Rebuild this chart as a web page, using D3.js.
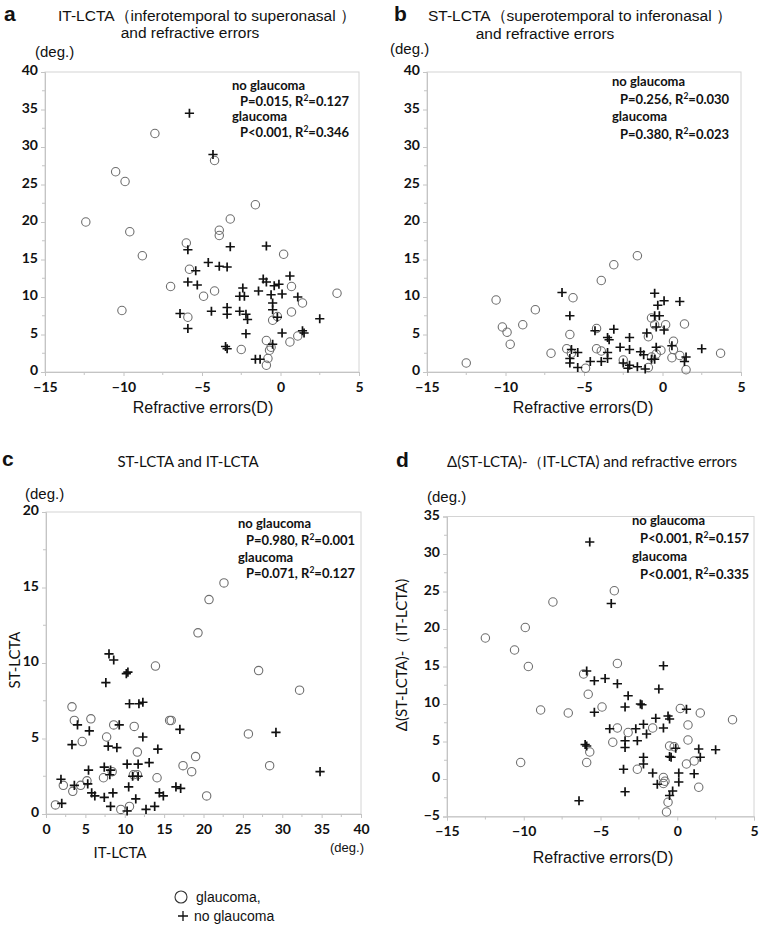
<!DOCTYPE html>
<html><head><meta charset="utf-8">
<script src="https://cdn.jsdelivr.net/npm/d3@7"></script>
<style>body{margin:0;background:#fff}svg{display:block}</style>
</head><body>
<svg id="c" width="761" height="944"></svg>
<script>
// ---------- DATA ----------
const refTicks = [-15, -10, -5, 0, 5];
const degTicks40 = [0, 5, 10, 15, 20, 25, 30, 35, 40];
const degTicks20 = [0, 5, 10, 15, 20];
const itTicks = [0, 5, 10, 15, 20, 25, 30, 35, 40];
const diffTicks = [-5, 0, 5, 10, 15, 20, 25, 30, 35];

// Panel a: IT-LCTA vs refractive error
const aGlaucoma = [[-8.0,31.8],[-10.5,26.7],[-9.9,25.4],[-12.4,20.0],[-9.6,18.7],[-4.2,28.2],[-1.6,22.3],[-3.2,20.4],[-3.9,18.9],[-3.9,18.2],[-6.0,17.2],[0.2,15.7],[-8.8,15.5],[-5.8,13.7],[-7.0,11.4],[-4.2,10.8],[-4.9,10.1],[-10.1,8.2],[-5.9,7.3],[0.7,11.4],[3.6,10.5],[1.4,9.2],[0.7,8.0],[-0.5,6.9],[-0.2,7.4],[1.1,4.8],[0.6,4.0],[-0.9,4.2],[-2.5,3.0],[-0.7,2.9],[-0.6,3.3],[-0.8,1.8],[-0.9,0.9]];
const aNoGlaucoma = [[-5.8,34.5],[-4.3,29.0],[-5.9,16.3],[-3.2,16.7],[-0.9,16.8],[-5.4,13.5],[-4.6,14.6],[-3.9,14.1],[-3.4,14.0],[-5.9,12.0],[-5.3,11.6],[-2.4,11.2],[-2.6,10.1],[-2.3,10.1],[-1.4,10.8],[-1.1,12.4],[-0.9,12.0],[-0.4,11.5],[-0.1,11.7],[0.6,12.8],[-0.6,10.3],[0.1,10.4],[-0.5,9.2],[-0.5,8.3],[1.1,10.0],[-6.4,7.8],[-4.4,8.1],[-3.4,8.6],[-3.4,7.7],[-2.6,8.1],[-2.2,7.7],[-2.1,7.0],[-0.2,7.3],[2.5,7.1],[-5.9,5.8],[-2.2,5.1],[0.1,5.2],[1.4,5.5],[1.5,5.2],[-0.5,3.7],[-3.5,3.4],[-3.4,3.1],[-1.6,1.7],[-1.3,1.7]];

// Panel b: ST-LCTA vs refractive error
const bGlaucoma = [[-3.1,14.3],[-1.6,15.5],[-3.9,12.2],[-10.6,9.6],[-5.7,9.9],[-8.1,8.3],[-10.2,6.0],[-9.9,5.3],[-8.9,6.3],[-9.7,3.7],[-12.5,1.2],[-7.1,2.5],[-5.9,5.0],[-6.1,3.1],[-5.8,2.5],[-4.2,5.8],[-4.2,3.1],[-3.9,2.8],[-4.9,0.5],[-2.5,1.6],[-0.9,4.7],[-0.7,7.2],[-0.5,6.3],[0.2,6.3],[1.4,6.4],[0.7,4.1],[0.7,3.0],[0.6,1.9],[-0.1,2.9],[-0.4,2.4],[-0.7,2.0],[1.1,2.2],[1.5,0.3],[3.7,2.5],[-0.9,0.6]];
const bNoGlaucoma = [[-6.4,10.6],[-5.9,7.5],[-5.8,3.0],[-5.4,2.6],[-5.9,1.8],[-5.9,1.2],[-5.4,0.6],[-4.3,5.5],[-3.5,4.6],[-3.4,4.3],[-3.1,5.7],[-3.5,2.6],[-3.5,1.8],[-4.6,1.4],[-3.9,1.4],[-2.1,4.6],[-2.7,3.3],[-2.1,3.0],[-2.5,1.2],[-2.1,0.9],[-2.2,0.5],[-1.6,0.7],[-1.4,2.7],[-1.2,2.3],[-1.1,0.4],[-1.0,5.2],[-0.5,10.5],[-0.3,8.9],[0.1,9.5],[1.1,9.4],[-0.5,7.5],[-0.2,7.5],[-0.4,6.0],[0.1,5.6],[-0.4,3.3],[-0.7,1.7],[-0.5,1.7],[0.6,3.5],[1.5,2.0],[1.4,1.4],[2.5,3.1]];

// Panel c: ST-LCTA vs IT-LCTA
const cGlaucoma = [[22.6,15.3],[20.7,14.2],[19.3,12.0],[13.9,9.8],[27.0,9.5],[32.2,8.2],[3.3,7.1],[3.6,6.2],[5.7,6.3],[8.6,5.9],[11.2,5.8],[15.7,6.2],[15.9,6.2],[4.6,4.8],[7.7,5.1],[11.6,4.1],[19.0,3.8],[17.4,3.2],[18.5,2.8],[25.7,5.3],[28.4,3.2],[8.4,2.8],[7.3,2.4],[11.1,2.6],[11.6,2.6],[14.1,2.4],[5.2,2.2],[2.2,1.9],[4.4,1.9],[3.4,1.5],[1.2,0.6],[9.5,0.3],[10.6,0.5],[20.4,1.2]];
const cNoGlaucoma = [[8.0,10.6],[8.6,10.2],[7.6,8.7],[10.2,9.3],[10.4,9.4],[10.6,7.3],[11.8,7.3],[12.3,7.4],[4.0,5.9],[5.5,5.5],[9.3,5.9],[17.0,5.6],[12.3,5.1],[29.2,5.4],[3.3,4.6],[7.9,4.5],[9.0,4.4],[14.2,4.3],[10.3,3.3],[11.7,3.3],[13.1,3.4],[5.4,2.9],[7.4,3.1],[8.2,2.9],[8.1,2.6],[11.0,2.5],[11.7,2.5],[34.8,2.8],[1.9,2.3],[3.6,1.9],[5.3,2.0],[5.8,1.4],[6.2,1.2],[7.4,1.1],[8.5,1.4],[10.5,1.8],[11.4,1.0],[14.4,1.4],[14.9,1.2],[16.5,1.8],[17.1,1.7],[2.0,0.7],[8.2,0.5],[10.3,0.2],[12.7,0.3],[13.8,0.5]];

// Panel d: (ST-LCTA)-(IT-LCTA) vs refractive error
const dGlaucoma = [[-4.1,25.1],[-8.1,23.6],[-9.9,20.2],[-12.5,18.8],[-10.6,17.2],[-9.7,15.0],[-3.9,15.4],[-6.1,14.0],[-5.8,11.3],[-8.9,9.2],[-7.1,8.8],[-4.9,9.6],[0.2,9.4],[1.5,8.8],[3.6,7.9],[-3.9,6.8],[-3.2,6.2],[-1.6,6.8],[0.7,7.2],[-4.2,4.9],[0.7,5.2],[-0.5,4.4],[-0.2,4.3],[-5.7,3.6],[-5.9,2.2],[-10.2,2.2],[0.6,2.0],[1.1,2.4],[-2.6,1.3],[-0.9,0.2],[-0.8,-0.3],[-0.9,-0.6],[1.4,-1.1],[-0.6,-3.1],[-0.7,-4.4]];
const dNoGlaucoma = [[-5.7,31.6],[-4.3,23.4],[-0.9,15.1],[-5.9,14.4],[-5.4,13.1],[-4.7,13.4],[-3.9,12.7],[-1.2,12.0],[-3.2,11.1],[-3.4,9.6],[-2.4,10.0],[-2.3,9.9],[-5.4,8.9],[0.6,9.3],[-1.4,8.1],[-0.6,8.4],[-0.5,8.0],[-4.4,6.7],[-2.7,6.7],[-2.2,7.3],[-0.9,6.8],[-2.0,6.0],[-3.4,5.1],[-3.4,4.2],[-2.6,5.1],[-6.0,4.6],[-5.9,4.4],[-0.1,4.1],[1.4,4.0],[2.5,3.9],[1.5,2.9],[-2.2,2.9],[-2.2,2.0],[-0.5,3.0],[-0.4,2.9],[-3.5,1.3],[-1.6,0.8],[0.1,0.8],[1.1,0.7],[-1.3,-0.7],[0.1,-0.4],[-3.4,-1.7],[-0.3,-1.6],[-0.5,-2.2],[-6.4,-2.9]];

// ---------- DRAW ----------
const svg = d3.select("#c");
const ARIAL = "'Liberation Sans', Arial, sans-serif";
const CAL = "Lato, 'Open Sans', sans-serif";
const axisCol = "#c4c4c4";

function drawPanel(p) {
  const x = d3.scaleLinear().domain(p.xDomain).range(p.xRange);
  const y = d3.scaleLinear().domain(p.yDomain).range(p.yRange);
  const g = svg.append("g");
  const [x0, x1] = p.xRange, [y0, y1] = p.yRange;
  g.append("rect").attr("x", x0).attr("y", y1).attr("width", x1 - x0).attr("height", y0 - y1)
    .attr("fill", "none").attr("stroke", "#d4d4d4").attr("stroke-width", 1);
  const xAx = d3.axisBottom(x).tickValues(p.xTicks).tickSize(4).tickPadding(6).tickFormat(d3.format("d"));
  const yAx = d3.axisLeft(y).tickValues(p.yTicks).tickSize(4).tickPadding(3).tickFormat(d3.format("d"));
  const gx = g.append("g").attr("transform", `translate(0,${y0})`).call(xAx);
  const gy = g.append("g").attr("transform", `translate(${x0},0)`).call(yAx);
  [gx, gy].forEach(a => {
    a.select(".domain").attr("stroke", axisCol);
    a.selectAll(".tick line").attr("stroke", axisCol);
    a.selectAll("text").attr("font-family", CAL).attr("font-weight", "bold")
      .attr("font-size", 14).attr("fill", "#111");
  });
  gy.selectAll(".tick text").attr("dy", "0.2em");
  const xs = p.xTicks, ys = p.yTicks;
  for (let i = 0; i < xs.length - 1; i++) {
    const m = (xs[i] + xs[i + 1]) / 2;
    g.append("line").attr("x1", x(m)).attr("x2", x(m)).attr("y1", y0).attr("y2", y0 + 3).attr("stroke", axisCol);
  }
  for (let i = 0; i < ys.length - 1; i++) {
    const m = (ys[i] + ys[i + 1]) / 2;
    g.append("line").attr("y1", y(m)).attr("y2", y(m)).attr("x1", x0).attr("x2", x0 - 3).attr("stroke", axisCol);
  }
  g.append("g").selectAll("circle").data(p.circles).join("circle")
    .attr("cx", d => x(d[0])).attr("cy", d => y(d[1])).attr("r", 4.2)
    .attr("fill", "none").attr("stroke", "#6e6e6e").attr("stroke-width", 1.1);
  const pl = 4.6;
  g.append("g").selectAll("path").data(p.pluses).join("path")
    .attr("d", d => `M${x(d[0]) - pl},${y(d[1])}h${2 * pl}M${x(d[0])},${y(d[1]) - pl}v${2 * pl}`)
    .attr("stroke", "#111").attr("stroke-width", 1.7).attr("fill", "none");
  const an = g.append("g").attr("font-family", CAL).attr("font-weight", "bold").attr("font-size", 13).attr("fill", "#111");
  p.ann.forEach((t, i) => {
    const tx = an.append("text").attr("x", p.annX + (i % 2 ? 8 : 0)).attr("y", p.annY + i * p.annStep);
    if (i % 2 === 0) tx.text(t);
    else {
      tx.append("tspan").text(t[0] + ", R");
      tx.append("tspan").attr("font-size", 8.5).attr("dy", -5).text("2");
      tx.append("tspan").attr("dy", 5).text("=" + t[1]);
    }
  });
}

drawPanel({ xDomain: [-15, 5], xRange: [45, 359], yDomain: [0, 40], yRange: [372, 72],
  xTicks: refTicks, yTicks: degTicks40, circles: aGlaucoma, pluses: aNoGlaucoma,
  ann: ["no glaucoma", ["P=0.015", "0.127"], "glaucoma", ["P<0.001", "0.346"]], annX: 232, annY: 90, annStep: 15.6 });
drawPanel({ xDomain: [-15, 5], xRange: [427, 741], yDomain: [0, 40], yRange: [372, 72],
  xTicks: refTicks, yTicks: degTicks40, circles: bGlaucoma, pluses: bNoGlaucoma,
  ann: ["no glaucoma", ["P=0.256", "0.030"], "glaucoma", ["P=0.380", "0.023"]], annX: 612, annY: 86, annStep: 17.5 });
drawPanel({ xDomain: [0, 40], xRange: [46, 361], yDomain: [0, 20], yRange: [814, 512],
  xTicks: itTicks, yTicks: degTicks20, circles: cGlaucoma, pluses: cNoGlaucoma,
  ann: ["no glaucoma", ["P=0.980", "0.001"], "glaucoma", ["P=0.071", "0.127"]], annX: 238, annY: 528, annStep: 16.8 });
drawPanel({ xDomain: [-15, 5], xRange: [447, 754], yDomain: [-5, 35], yRange: [816.5, 516.5],
  xTicks: refTicks, yTicks: diffTicks, circles: dGlaucoma, pluses: dNoGlaucoma,
  ann: ["no glaucoma", ["P<0.001", "0.157"], "glaucoma", ["P<0.001", "0.335"]], annX: 632, annY: 525, annStep: 18 });

// ---------- TEXT ----------
function txt(x, y, s, o = {}) {
  const t = svg.append("text").attr("x", x).attr("y", y).text(s)
    .attr("font-family", o.ff || ARIAL).attr("font-size", o.fs || 14)
    .attr("font-weight", o.fw || "normal").attr("text-anchor", o.anchor || "start").attr("fill", "#111");
  if (o.rot) t.attr("transform", `rotate(-90,${x},${y})`);
  return t;
}
txt(4, 21, "a", { fs: 21, fw: "bold" });
txt(394, 21, "b", { fs: 21, fw: "bold" });
txt(2, 466, "c", { fs: 21, fw: "bold" });
txt(396, 467, "d", { fs: 21, fw: "bold" });
txt(58, 21, "IT-LCTA（inferotemporal to superonasal ）", { fs: 15.5 });
txt(190, 38, "and refractive errors", { fs: 15.5, anchor: "middle" });
txt(428, 21, "ST-LCTA（superotemporal to inferonasal ）", { fs: 15.5 });
txt(545, 39, "and refractive errors", { fs: 15.5, anchor: "middle" });
txt(188, 467, "ST-LCTA and IT-LCTA", { ff: CAL, fs: 15, anchor: "middle" });
txt(447, 467, "Δ(ST-LCTA)-（IT-LCTA) and refractive errors", { ff: CAL, fs: 15 });
txt(35, 57, "(deg.)", { fs: 15 });
txt(390, 54, "(deg.)", { fs: 15 });
txt(25, 499, "(deg.)", { fs: 15 });
txt(427, 502, "(deg.)", { fs: 15 });
txt(330, 852, "(deg.)", { fs: 13 });
txt(203, 413, "Refractive errors(D)", { fs: 16, anchor: "middle" });
txt(583, 413, "Refractive errors(D)", { fs: 16, anchor: "middle" });
txt(603, 863, "Refractive errors(D)", { fs: 16, anchor: "middle" });
txt(120, 858, "IT-LCTA", { ff: CAL, fs: 15, anchor: "middle" });
txt(20, 660, "ST-LCTA", { ff: CAL, fs: 15, anchor: "middle", rot: true });
txt(407, 655, "Δ(ST-LCTA)-（IT-LCTA)", { ff: CAL, fs: 15, anchor: "middle", rot: true });
svg.append("circle").attr("cx", 181).attr("cy", 897).attr("r", 6).attr("fill", "none").attr("stroke", "#333").attr("stroke-width", 1.1);
txt(196, 902, "glaucoma,", { fs: 14 });
svg.append("path").attr("d", "M178,916h10M183,911v10").attr("stroke", "#111").attr("stroke-width", 1.3);
txt(194, 921, "no glaucoma", { fs: 14 });
</script>
</body></html>
